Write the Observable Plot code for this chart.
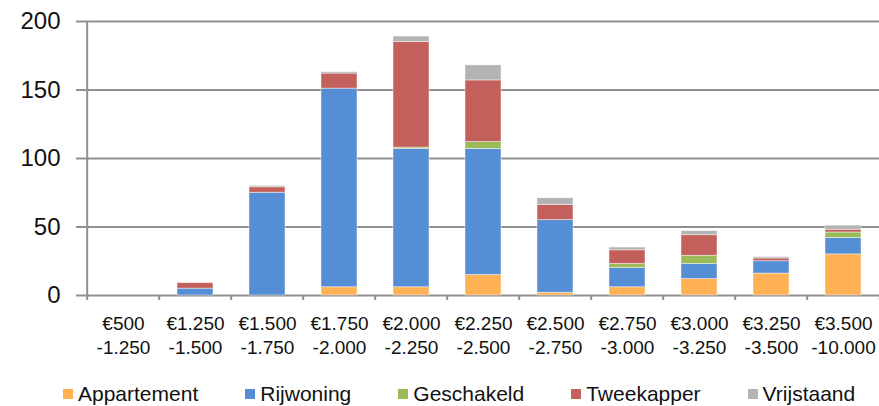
<!DOCTYPE html>
<html>
<head>
<meta charset="utf-8">
<script src="https://cdn.jsdelivr.net/npm/d3@7"></script>
<script src="https://cdn.jsdelivr.net/npm/@observablehq/plot@0.6"></script>
<style>
  body { margin: 0; background: #fff; font-family: "Liberation Sans", Arial, sans-serif; }
  #wrap { position: relative; width: 879px; height: 406px; overflow: hidden; }
  #legend { position: absolute; left: 63px; top: 383px; height: 22px; display: flex; align-items: center; gap: 47px; font-size: 21px; color: #111; }
  .item { display: flex; align-items: center; gap: 5px; white-space: nowrap; }
  .sw { width: 10px; height: 10px; display: inline-block; }
</style>
</head>
<body>
<div id="wrap">
  <div id="chart"></div>
  <div id="legend"></div>
</div>
<script>
const lower = ["€500", "€1.250", "€1.500", "€1.750", "€2.000", "€2.250", "€2.500", "€2.750", "€3.000", "€3.250", "€3.500"];
const upper = ["-1.250", "-1.500", "-1.750", "-2.000", "-2.250", "-2.500", "-2.750", "-3.000", "-3.250", "-3.500", "-10.000"];
const types = ["Appartement", "Rijwoning", "Geschakeld", "Tweekapper", "Vrijstaand"];
const appartement = [0, 0, 0, 6, 6, 15, 2, 6, 12, 16, 30];
const rijwoning   = [0, 5, 75, 145, 101, 92, 53, 14, 11, 9, 12];
const geschakeld  = [0, 0, 0, 0, 1, 5, 0, 3, 6, 0, 4];
const tweekapper  = [0, 4, 4, 11, 77, 45, 11, 10, 15, 2, 2];
const vrijstaand  = [0, 0, 1, 1, 4, 11, 5, 2, 3, 1, 3];
const yTicks = [0, 50, 100, 150, 200];
const colors = ["#FFB153", "#558ED5", "#9BBB59", "#C3605B", "#B3B3B3"];

const categories = lower.map((l, i) => l + "\n" + upper[i]);
const series = [appartement, rijwoning, geschakeld, tweekapper, vrijstaand];
const data = [];
types.forEach((t, ti) => series[ti].forEach((v, ci) => data.push({cat: categories[ci], type: t, value: v})));

const W = 879, H = 370, ML = 83, MT = 21, MB = 75;
const x0 = 83, x1 = 882;
const step = (x1 - x0) / categories.length;
const grid = "#8f8f8f";

const chart = Plot.plot({
  width: W, height: H,
  marginLeft: ML, marginRight: 0, marginTop: MT, marginBottom: MB,
  style: {fontFamily: "'Liberation Sans', Arial, sans-serif", background: "#fff", overflow: "visible"},
  x: {domain: categories, range: [x0, x1], paddingInner: 0.5, paddingOuter: 0.25, axis: null, label: null},
  y: {domain: [0, 200], axis: null, label: null},
  color: {domain: types, range: colors},
  marks: [
    Plot.ruleY(yTicks, {y: d => d, stroke: grid, strokeWidth: 2}),
    Plot.barY(data.filter(d => d.value > 0), {x: "cat", y: "value", fill: "type", stroke: "#ffffff", strokeWidth: 0.8, strokeOpacity: 0.55}),
    Plot.ruleX(categories, {x: d => d, dx: -step / 2, y1: d => d === categories[0] ? 200 : 0, y2: -3.6, stroke: grid, strokeWidth: 2}),
    Plot.ruleX([categories[categories.length - 1]], {x: d => d, dx: step / 2, y1: 0, y2: -3.6, stroke: grid, strokeWidth: 2}),
    Plot.axisY({ticks: yTicks, label: null, tickSize: 7, tickPadding: 16, fontSize: 24, stroke: grid, strokeWidth: 2, fill: "#111", tickFormat: d => String(d)}),
    Plot.text(categories, {x: d => d, y: 0, text: d => d, lineAnchor: "top", dy: 18, lineHeight: 1.25, fontSize: 19, fill: "#111"})
  ]
});
document.getElementById("chart").appendChild(chart);

const legend = document.getElementById("legend");
types.forEach((t, i) => {
  const it = document.createElement("div");
  it.className = "item";
  it.innerHTML = `<span class="sw" style="background:${colors[i]}"></span><span>${t}</span>`;
  legend.appendChild(it);
});
</script>
</body>
</html>
